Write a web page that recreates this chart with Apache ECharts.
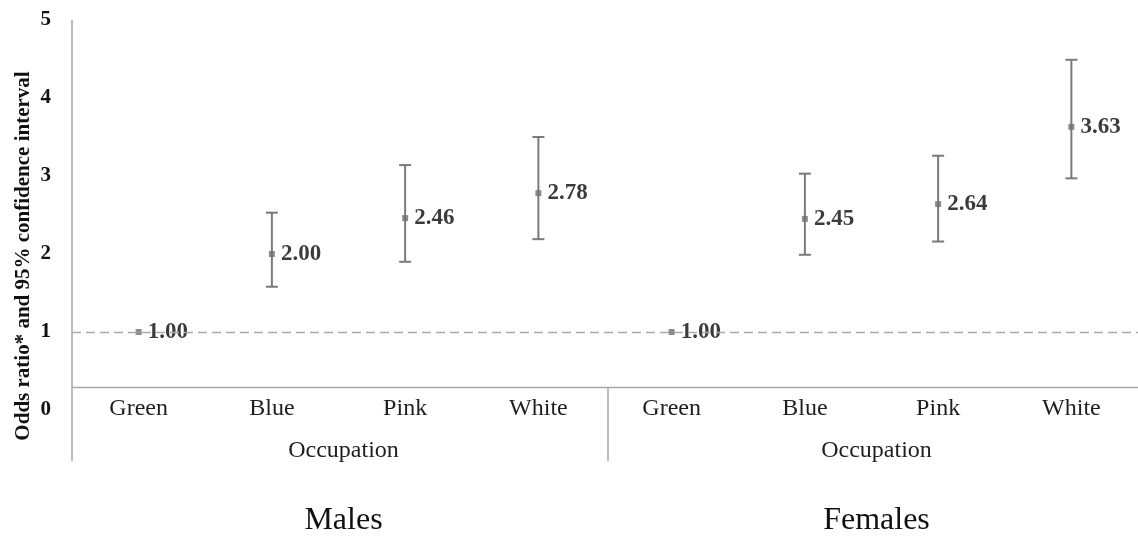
<!DOCTYPE html>
<html>
<head>
<meta charset="utf-8">
<script src="https://cdn.jsdelivr.net/npm/echarts@6/dist/echarts.min.js"></script>
<style>html,body{margin:0;padding:0;background:#fff;}#c{width:1138px;height:541px;}</style>
</head>
<body>
<div id="c"></div>
<script>
// Data
var categories = ['Green', 'Blue', 'Pink', 'White', 'Green', 'Blue', 'Pink', 'White'];
var groups = ['Males', 'Females'];
var oddsRatio = [1.00, 2.00, 2.46, 2.78, 1.00, 2.45, 2.64, 3.63];
var ciLow =  [1.00, 1.58, 1.90, 2.19, 1.00, 1.99, 2.16, 2.97];
var ciHigh = [1.00, 2.53, 3.14, 3.50, 1.00, 3.03, 3.26, 4.49];
var yTicks = [0, 1, 2, 3, 4, 5];
var referenceLine = 1;
var axisCross = 0.295;

var FONT = 'Liberation Serif';
var chart = echarts.init(document.getElementById('c'));

var GL = 72, GT = 20, GH = 390, W = 1138;
var GW = W - GL;

var pointData = oddsRatio.map(function (v, i) { return [i, v]; });
var ciData = ciLow.map(function (v, i) { return [i, v, ciHigh[i]]; });

var option = {
  animation: false,
  backgroundColor: '#ffffff',
  grid: { left: GL, top: GT, width: GW, height: GH, containLabel: false },
  xAxis: {
    type: 'category',
    data: categories,
    boundaryGap: true,
    axisLine: { show: false },
    axisTick: { show: false },
    splitLine: { show: false },
    axisLabel: { fontFamily: FONT, fontSize: 24, color: '#1e1e1e', margin: -13, interval: 0 }
  },
  yAxis: {
    type: 'value',
    min: yTicks[0],
    max: yTicks[yTicks.length - 1],
    interval: 1,
    axisLine: { show: false },
    axisTick: { show: false },
    splitLine: { show: false },
    axisLabel: { fontFamily: FONT, fontSize: 21, fontWeight: 'bold', color: '#111111', margin: 21 }
  },
  series: [
    {
      type: 'custom',
      name: 'CI',
      data: ciData,
      z: 3,
      renderItem: function (params, api) {
        var lo = api.coord([api.value(0), api.value(1)]);
        var hi = api.coord([api.value(0), api.value(2)]);
        if (Math.abs(lo[1] - hi[1]) < 1) return null;
        var hw = 6;
        var st = { stroke: '#7a7a7a', lineWidth: 2 };
        return {
          type: 'group',
          children: [
            { type: 'line', shape: { x1: lo[0], y1: lo[1], x2: hi[0], y2: hi[1] }, style: st },
            { type: 'line', shape: { x1: lo[0] - hw, y1: lo[1], x2: lo[0] + hw, y2: lo[1] }, style: st },
            { type: 'line', shape: { x1: hi[0] - hw, y1: hi[1], x2: hi[0] + hw, y2: hi[1] }, style: st }
          ]
        };
      }
    },
    {
      type: 'scatter',
      name: 'Odds ratio',
      data: pointData,
      symbol: 'rect',
      symbolSize: 6,
      z: 4,
      itemStyle: { color: '#707070' },
      label: {
        show: true,
        position: 'right',
        distance: 6,
        formatter: function (p) { return p.value[1].toFixed(2); },
        fontFamily: FONT, fontSize: 23, fontWeight: 'bold', color: '#0a0a0a'
      },
      markLine: {
        silent: true,
        symbol: ['none', 'none'],
        label: { show: false },
        data: [
          { yAxis: referenceLine, lineStyle: { type: [9, 5], color: '#aaaaaa', width: 1.3 } },
          { yAxis: axisCross, lineStyle: { type: 'solid', color: '#a6a6a6', width: 1.3 } }
        ]
      }
    }
  ],
  title: [
    { text: 'Occupation', left: GL + GW * 0.25, top: 434, textAlign: 'center',
      textStyle: { fontFamily: FONT, fontSize: 24, fontWeight: 'normal', color: '#1e1e1e' } },
    { text: 'Occupation', left: GL + GW * 0.75, top: 434, textAlign: 'center',
      textStyle: { fontFamily: FONT, fontSize: 24, fontWeight: 'normal', color: '#1e1e1e' } },
    { text: groups[0], left: GL + GW * 0.25, top: 500, textAlign: 'center',
      textStyle: { fontFamily: FONT, fontSize: 32, fontWeight: 'normal', color: '#111' } },
    { text: groups[1], left: GL + GW * 0.75, top: 500, textAlign: 'center',
      textStyle: { fontFamily: FONT, fontSize: 32, fontWeight: 'normal', color: '#111' } }
  ],
  graphic: [
    { type: 'line', shape: { x1: GL, y1: GT, x2: GL, y2: 461 }, style: { stroke: '#a6a6a6', lineWidth: 1.5 } },
    { type: 'line', shape: { x1: GL + GW / 2 + 3, y1: 387, x2: GL + GW / 2 + 3, y2: 461 }, style: { stroke: '#a6a6a6', lineWidth: 1.5 } },
    { type: 'text', x: 24, y: 256, rotation: Math.PI / 2,
      style: { text: 'Odds ratio* and 95% confidence interval', fontFamily: FONT, fontSize: 21, fontWeight: 'bold',
               fill: '#111111', align: 'center', verticalAlign: 'middle' } }
  ]
};
chart.setOption(option);
</script>
</body>
</html>
